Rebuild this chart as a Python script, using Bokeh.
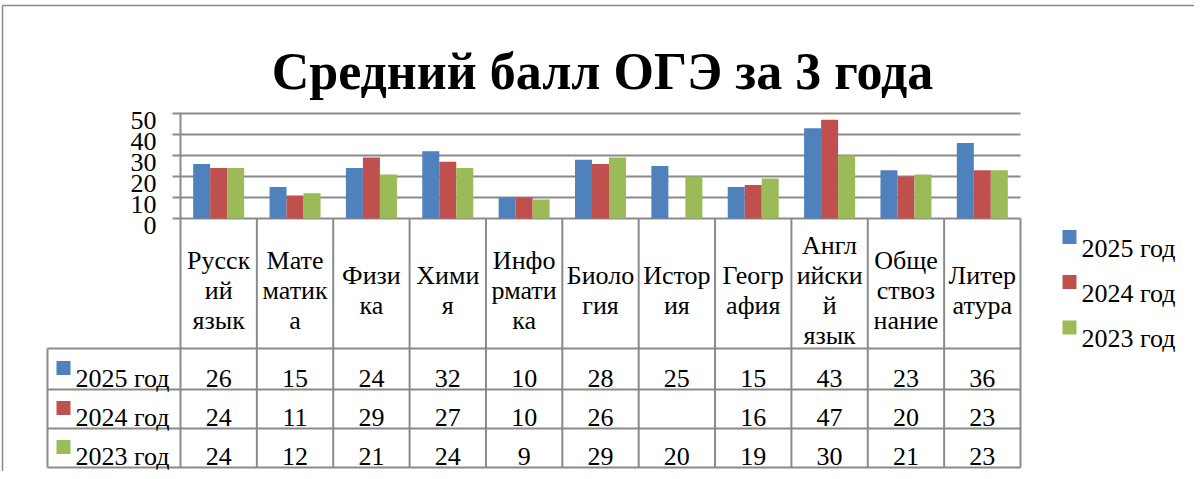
from bokeh.plotting import figure
from bokeh.models import Range1d
from bokeh.core.properties import value
from bokeh.embed import file_html
from bokeh.resources import INLINE

# ---------------- data ----------------
title = "Средний балл ОГЭ за 3 года"
categories = ["Русский язык", "Математика", "Физика", "Химия", "Информатика",
              "Биология", "История", "География", "Английский язык",
              "Обществознание", "Литература"]
category_labels = ["Русск\nий\nязык", "Мате\nматик\nа", "Физи\nка", "Хими\nя",
                   "Инфо\nрмати\nка", "Биоло\nгия", "Истор\nия", "Геогр\nафия",
                   "Англ\nийски\nй\nязык", "Обще\nствоз\nнание", "Литер\nатура"]
series_names = ["2025 год", "2024 год", "2023 год"]
score_2025 = [26, 15, 24, 32, 10, 28, 25, 15, 43, 23, 36]
score_2024 = [24, 11, 29, 27, 10, 26, None, 16, 47, 20, 23]
score_2023 = [24, 12, 21, 24, 9, 29, 20, 19, 30, 21, 23]
y_ticks = [0, 10, 20, 30, 40, 50]

series = [score_2025, score_2024, score_2023]
colors = ["#4F81BD", "#C0504D", "#9BBB59"]

# ---------------- layout (canvas pixels) ----------------
W, H = 1194, 471
PLOT_L, PLOT_R = 180, 1020
Y0_PX, YTOP_PX = 218, 113
n = len(categories)
ux = (PLOT_R - PLOT_L) / n
uy = (Y0_PX - YTOP_PX) / (y_ticks[-1] - y_ticks[0])
bar_w = 17 / ux
GRID = "#8a8a8a"
F = value("Liberation Serif")
FS = "26px"


def X(px):
    return (px - PLOT_L) / ux


def Y(py):
    return (Y0_PX - py) / uy


p = figure(width=W, height=H, output_backend="svg", toolbar_location=None,
           x_range=Range1d(X(0), X(W)), y_range=Range1d(Y(H), Y(0)),
           x_axis_location=None, y_axis_location=None,
           min_border=0, outline_line_color=None)
p.grid.visible = False
p.background_fill_color = "white"
p.border_fill_color = "white"

# title
p.text(x=[X(602)], y=[Y(71)], text=[title], text_align="center",
       text_baseline="alphabetic", text_font=F, text_font_size="52px",
       text_font_style="bold", text_color="black")

# outer chart border
p.segment(x0=[X(2), X(2)], y0=[Y(5), Y(5)], x1=[X(2), X(W)], y1=[Y(H), Y(5)],
          line_color=GRID, line_width=1.5)

# gridlines + tick marks
p.segment(x0=[X(PLOT_L - 8)] * len(y_ticks), x1=[n] * len(y_ticks), y0=y_ticks, y1=y_ticks,
          line_color=GRID, line_width=2)
p.segment(x0=[0], y0=[y_ticks[0]], x1=[0], y1=[y_ticks[-1]], line_color=GRID, line_width=2)
p.text(x=[X(156)] * len(y_ticks), y=y_ticks, text=[str(t) for t in y_ticks],
       text_align="right", text_baseline="alphabetic", y_offset=7,
       text_font=F, text_font_size=FS, text_color="black")

# bars
for k, (vals, col) in enumerate(zip(series, colors)):
    xs = [i + 0.5 + (k - 1) * bar_w for i, v in enumerate(vals) if v is not None]
    tops = [v for v in vals if v is not None]
    p.vbar(x=xs, top=tops, bottom=0, width=bar_w, fill_color=col, line_color=None)

# ---------------- data table ----------------
HEAD_TOP, HEAD_BOT = 218, 348
ROW_BOTS = [389, 428, 467]
ROW_TOPS = [HEAD_BOT] + ROW_BOTS[:-1]
TAB_L = 47

p.segment(x0=list(range(n + 1)), x1=list(range(n + 1)),
          y0=[Y(HEAD_TOP)] * (n + 1), y1=[Y(ROW_BOTS[-1])] * (n + 1),
          line_color=GRID, line_width=2)
hl = [HEAD_BOT] + ROW_BOTS
p.segment(x0=[X(TAB_L)] * 4, x1=[n] * 4, y0=[Y(v) for v in hl], y1=[Y(v) for v in hl],
          line_color=GRID, line_width=2)
p.segment(x0=[X(TAB_L)], x1=[X(TAB_L)], y0=[Y(HEAD_BOT)], y1=[Y(ROW_BOTS[-1])],
          line_color=GRID, line_width=2)

# category header (one text item per wrapped line)
hx, hy, ht = [], [], []
mid = (HEAD_TOP + HEAD_BOT) / 2 - 1
for i, lab in enumerate(category_labels):
    lines = lab.split("\n")
    m = len(lines)
    for j, ln in enumerate(lines):
        hx.append(i + 0.5)
        hy.append(Y(mid + 8 + (j - (m - 1) / 2) * 30))
        ht.append(ln)
p.text(x=hx, y=hy, text=ht, text_align="center", text_baseline="alphabetic",
       text_font=F, text_font_size=FS, text_color="black")

# rows
for r, (name, vals, col) in enumerate(zip(series_names, series, colors)):
    top, bot = ROW_TOPS[r], ROW_BOTS[r]
    cy = (top + bot) / 2
    p.rect(x=[X(63)], y=[Y(cy - 1)], width=14 / ux, height=14 / uy,
           fill_color=col, line_color=None)
    p.text(x=[X(75)], y=[Y(bot - 11.5)], text=[name], text_baseline="alphabetic",
           text_font=F, text_font_size=FS, text_color="black")
    p.text(x=[i + 0.5 for i in range(n)], y=[Y(bot - 11.5)] * n,
           text=["" if v is None else str(v) for v in vals],
           text_align="center", text_baseline="alphabetic",
           text_font=F, text_font_size=FS, text_color="black")

# legend
leg_y = [236.5, 281.5, 327]
for name, col, ly in zip(series_names, colors, leg_y):
    p.rect(x=[X(1069)], y=[Y(ly)], width=14 / ux, height=14 / uy,
           fill_color=col, line_color=None)
    p.text(x=[X(1081)], y=[Y(ly + 11)], text=[name], text_baseline="alphabetic",
           text_font=F, text_font_size=FS, text_color="black")

open("out.html", "w").write(file_html(p, INLINE))
